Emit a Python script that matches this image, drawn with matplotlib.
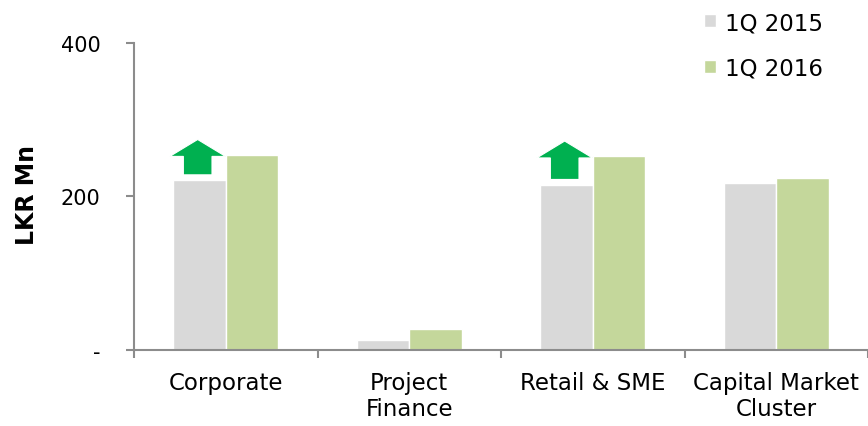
import matplotlib
matplotlib.use("Agg")
import matplotlib.pyplot as plt
import numpy as np

categories = ["Corporate", "Project\nFinance", "Retail & SME", "Capital Market\nCluster"]
series_names = ["1Q 2015", "1Q 2016"]
q1_2015 = [221, 13, 215, 218]
q1_2016 = [254, 27, 252, 224]
# categories flagged with a growth arrow
arrow_flags = [True, False, True, False]

colors = ["#D9D9D9", "#C4D79B"]
arrow_color = "#00B050"
axis_color = "#8C8C8C"

plt.rcParams["font.family"] = ["DejaVu Sans"]

fig = plt.figure(figsize=(8.68, 4.27), dpi=100)
ax = fig.add_axes([134 / 868, 76 / 427, 1 - 134 / 868, (351 - 43.7) / 427])

x = np.arange(len(categories))
width = 0.285
offset = 0.143
ax.bar(x - offset, q1_2015, width, color=colors[0], edgecolor="white", linewidth=1, label=series_names[0])
ax.bar(x + offset, q1_2016, width, color=colors[1], edgecolor="white", linewidth=1, label=series_names[1])

# up arrows above the 1Q 2015 bar, from just above it to above the 1Q 2016 level
for xi, flag, lo, hi in zip(x, arrow_flags, q1_2015, q1_2016):
    if not flag:
        continue
    cx = xi - offset - 0.01
    bottom = lo + 7
    base = hi - 2
    tip = hi + 20
    hw, sw = 0.152, 0.078
    ax.fill([cx - sw, cx + sw, cx + sw, cx + hw, cx, cx - hw, cx - sw],
            [bottom, bottom, base, base, tip, base, base],
            color=arrow_color, edgecolor="white", linewidth=0.8, zorder=3)

ax.set_xlim(-0.5, len(categories) - 0.5)
ax.set_ylim(0, 400)
ax.set_yticks([0, 200, 400])
ax.set_yticklabels(["-", "200", "400"])

ax.set_xticks(np.arange(-0.5, len(categories), 1.0))
ax.set_xticklabels([])
ax.set_xticks(x, minor=True)
ax.set_xticklabels(categories, minor=True, linespacing=1.2)
ax.tick_params(axis="x", which="minor", length=0, pad=15, labelsize=16.5)
ax.tick_params(axis="x", which="major", length=6, width=1.5, color=axis_color, direction="out")
ax.tick_params(axis="y", length=6, width=1.5, color=axis_color, direction="out", pad=18, labelsize=15)

for side in ["top", "right"]:
    ax.spines[side].set_visible(False)
for side in ["left", "bottom"]:
    ax.spines[side].set_color(axis_color)
    ax.spines[side].set_linewidth(1.5)
ax.spines["left"].set_bounds(0, 400)

fig.text(27.5 / 868, 1 - 195 / 427, "LKR Mn", rotation=90, fontsize=17, fontweight="bold",
         ha="center", va="center")

ax.legend(loc="upper left", bbox_to_anchor=(699 / 868, 1 - 7.5 / 427), bbox_transform=fig.transFigure,
          frameon=False, fontsize=16.5, handlelength=0.55, handleheight=0.5, handletextpad=0.4,
          labelspacing=0.98, borderpad=0.2, borderaxespad=0)

fig.savefig("out.png", dpi=100)
